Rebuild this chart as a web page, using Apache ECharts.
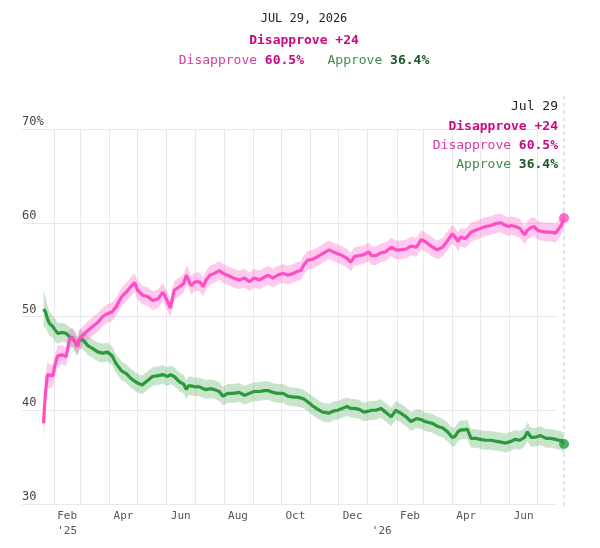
<!DOCTYPE html>
<html>
<head>
<meta charset="utf-8">
<script src="https://cdn.jsdelivr.net/npm/echarts@6/dist/echarts.min.js"></script>
<style>html,body{margin:0;padding:0;background:#fff}#c{width:600px;height:548px}</style>
</head>
<body>
<div id="c"></div>
<script>
// ---------- data ----------
const dates = [
 '2025-01-21','2025-01-22','2025-01-23','2025-01-25','2025-01-27','2025-01-31','2025-02-02','2025-02-05','2025-02-10','2025-02-14',
 '2025-02-16','2025-02-18','2025-02-21','2025-02-24','2025-02-26','2025-02-28','2025-03-04','2025-03-09','2025-03-14','2025-03-20',
 '2025-03-25','2025-03-30','2025-04-04','2025-04-08','2025-04-14','2025-04-19','2025-04-24','2025-04-28','2025-05-01','2025-05-06',
 '2025-05-12','2025-05-17','2025-05-23','2025-05-28','2025-06-02','2025-06-05','2025-06-09','2025-06-15','2025-06-19','2025-06-22',
 '2025-06-24','2025-06-27','2025-07-01','2025-07-06','2025-07-10','2025-07-13','2025-07-17','2025-07-22','2025-07-27','2025-07-31',
 '2025-08-05','2025-08-11','2025-08-17','2025-08-23','2025-08-28','2025-09-02','2025-09-08','2025-09-13','2025-09-17','2025-09-22',
 '2025-09-27','2025-10-03','2025-10-08','2025-10-14','2025-10-18','2025-10-22','2025-10-25','2025-10-29','2025-11-03','2025-11-09',
 '2025-11-14','2025-11-21','2025-11-25','2025-11-30','2025-12-05','2025-12-10','2025-12-14','2025-12-18','2025-12-23','2025-12-28',
 '2026-01-02','2026-01-05','2026-01-10','2026-01-15','2026-01-20','2026-01-26','2026-01-31','2026-02-05','2026-02-11','2026-02-16',
 '2026-02-22','2026-02-27','2026-03-03','2026-03-07','2026-03-11','2026-03-16','2026-03-22','2026-03-27','2026-04-01','2026-04-04',
 '2026-04-07','2026-04-10','2026-04-14','2026-04-17','2026-04-21','2026-04-26','2026-05-01','2026-05-06','2026-05-12','2026-05-17',
 '2026-05-23','2026-05-28','2026-05-31','2026-06-03','2026-06-07','2026-06-12','2026-06-17','2026-06-20','2026-06-24','2026-06-27',
 '2026-07-01','2026-07-04','2026-07-10','2026-07-15','2026-07-20','2026-07-23','2026-07-26','2026-07-29'
];
const disapprove = [
 38.6,40.5,41.8,43.8,43.6,43.7,44.8,45.8,45.9,45.7,
 46.8,47.7,47.7,47.3,46.8,47.6,48.0,48.5,48.9,49.4,
 50.0,50.3,50.5,51.0,52.1,52.6,53.2,53.6,52.8,52.3,
 52.1,51.7,51.9,52.6,51.6,50.9,52.8,53.2,53.5,54.4,
 54.2,53.3,53.7,53.7,53.2,53.9,54.4,54.6,54.9,54.6,
 54.4,54.1,53.9,54.1,53.7,54.1,53.9,54.2,54.4,54.1,
 54.4,54.6,54.4,54.6,54.8,54.9,55.5,56.0,56.1,56.4,
 56.7,57.1,56.9,56.7,56.5,56.2,55.8,56.4,56.5,56.6,
 56.9,56.5,56.5,56.8,56.9,57.4,57.1,57.1,57.2,57.5,
 57.4,58.2,58.0,57.7,57.4,57.1,57.4,58.1,58.8,58.5,
 58.0,58.5,58.3,58.5,59.0,59.2,59.4,59.6,59.7,59.9,
 60.0,59.7,59.6,59.7,59.6,59.4,58.7,59.2,59.5,59.6,
 59.2,59.1,59.0,59.0,58.9,59.3,59.7,60.5
];
const approve = [
 50.8,50.6,50.5,49.8,49.3,48.9,48.6,48.2,48.3,48.2,
 48.0,47.8,47.7,47.2,46.8,47.5,47.5,46.9,46.6,46.2,
 46.1,46.2,45.8,45.0,44.2,43.9,43.4,43.1,42.9,42.7,
 43.2,43.6,43.7,43.8,43.6,43.8,43.6,43.0,42.8,42.2,
 42.6,42.6,42.5,42.5,42.3,42.2,42.3,42.2,42.0,41.5,
 41.8,41.8,41.9,41.6,41.8,42.0,42.0,42.1,42.1,41.9,
 41.8,41.8,41.5,41.4,41.4,41.3,41.2,40.9,40.5,40.1,
 39.8,39.7,39.9,40.0,40.2,40.4,40.2,40.2,40.1,39.8,
 39.9,40.0,40.0,40.2,39.8,39.3,40.0,39.7,39.3,38.8,
 39.1,39.0,38.8,38.7,38.6,38.3,38.1,37.7,37.1,37.2,
 37.7,37.9,37.9,38.0,37.0,37.0,36.9,36.8,36.8,36.7,
 36.6,36.5,36.6,36.7,36.9,36.8,37.1,37.7,37.1,37.1,
 37.2,37.3,37.0,37.0,36.9,36.8,36.8,36.4
];
// half-width of the shaded uncertainty band (wider in the first days)
const earlyMargin = [2.0,1.8,1.6,1.4,1.3,1.2,1.2,1.1];
const typicalMargin = 1.0;

const monthTicks = ['2025-02-01','2025-03-01','2025-04-01','2025-05-01','2025-06-01','2025-07-01','2025-08-01','2025-09-01',
 '2025-10-01','2025-11-01','2025-12-01','2026-01-01','2026-02-01','2026-03-01','2026-04-01','2026-05-01','2026-06-01','2026-07-01'];
const xLabelDates = ['2025-02-15','2025-04-16','2025-06-16','2025-08-16','2025-10-16','2025-12-16','2026-01-16','2026-02-15','2026-04-16','2026-06-16'];
const xLabelTexts = ["Feb\n'25","Apr","Jun","Aug","Oct","Dec","\n'26","Feb","Apr","Jun"];
const yMin = 30, yMax = 70, yStep = 10;
const xMin = '2024-12-29', xMax = '2026-07-29';

// ---------- style ----------
const FONT = "'DejaVu Sans Mono', 'Liberation Mono', monospace";
const PINK = '#ff4ec4', PINK_BAND = 'rgba(255,78,196,0.30)';
const GREEN = '#2a9a3a', GREEN_BAND = 'rgba(42,154,58,0.26)';
const GRID_COLOR = '#e8e8ef';

const P = s => +echarts.time.parse(s);
const margin = i => (i < earlyMargin.length ? earlyMargin[i] : typicalMargin);
const labelMap = {};
xLabelDates.forEach((d, i) => { labelMap[P(d)] = xLabelTexts[i]; });

const line = (vals) => vals.map((v, i) => [P(dates[i]), v]);
const last = dates.length - 1;

function bandSeries(vals, color) {
  return {
    type: 'custom', xAxisIndex: 1, yAxisIndex: 1, silent: true, z: 1,
    data: [[P(dates[0]), vals[0]]],
    renderItem: (params, api) => {
      const upper = vals.map((v, i) => api.coord([P(dates[i]), v + margin(i)]));
      const lower = vals.map((v, i) => api.coord([P(dates[i]), v - margin(i)])).reverse();
      return {type: 'polygon', shape: {points: upper.concat(lower)}, style: {fill: color}};
    }
  };
}

const chart = echarts.init(document.getElementById('c'), null, {renderer: 'canvas'});

const option = {
  animation: false,
  backgroundColor: '#fff',
  grid: [
    {left: 22, right: 43, top: 129, bottom: 44},
    {left: 22, right: 36, top: 129, bottom: 44}
  ],
  xAxis: [
    {type: 'value', gridIndex: 0, show: false, min: 0, max: 1},
    {
      type: 'value', gridIndex: 1, min: P(xMin), max: P(xMax),
      axisLine: {show: false},
      axisTick: {show: false, customValues: monthTicks.map(P)},
      splitLine: {show: true, lineStyle: {color: GRID_COLOR, width: 1}},
      axisLabel: {
        customValues: xLabelDates.map(P),
        formatter: v => (labelMap[v] !== undefined ? labelMap[v] : ''),
        color: '#555', fontFamily: FONT, fontSize: 11, lineHeight: 15, margin: 5,
        hideOverlap: false
      }
    }
  ],
  yAxis: [
    {
      type: 'value', gridIndex: 0, min: yMin, max: yMax, interval: yStep,
      axisLine: {show: false}, axisTick: {show: false},
      splitLine: {show: true, lineStyle: {color: GRID_COLOR, width: 1}},
      axisLabel: {
        inside: true, margin: 0, align: 'left', verticalAlign: 'bottom',
        padding: [0, 0, 1, 0],
        formatter: v => (v === yMax ? v + '%' : String(v)),
        color: '#444', fontFamily: FONT, fontSize: 12
      }
    },
    {type: 'value', gridIndex: 1, min: yMin, max: yMax, interval: yStep, show: false, splitLine: {show: false}}
  ],
  series: [
    bandSeries(approve, GREEN_BAND),
    bandSeries(disapprove, PINK_BAND),
    {name: 'Approve', type: 'line', xAxisIndex: 1, yAxisIndex: 1, data: line(approve),
      symbol: 'none', lineStyle: {color: GREEN, width: 3.2}, z: 3},
    {name: 'Disapprove', type: 'line', xAxisIndex: 1, yAxisIndex: 1, data: line(disapprove),
      symbol: 'none', lineStyle: {color: PINK, width: 3.2}, z: 4},
    {name: 'endA', type: 'scatter', xAxisIndex: 1, yAxisIndex: 1, data: [[P(dates[last]), approve[last]]],
      symbolSize: 10, itemStyle: {color: GREEN}, clip: false, z: 6},
    {name: 'endD', type: 'scatter', xAxisIndex: 1, yAxisIndex: 1, data: [[P(dates[last]), disapprove[last]]],
      symbolSize: 10, itemStyle: {color: PINK}, clip: false, z: 6}
  ]
};
chart.setOption(option);

// ---------- header / annotation texts ----------
const MONTHS = ['Jan','Feb','Mar','Apr','May','Jun','Jul','Aug','Sep','Oct','Nov','Dec'];
const [yy, mm, dd] = dates[last].split('-').map(Number);
const dLast = disapprove[last], aLast = approve[last];
const net = Math.round(dLast - aLast);
const leader = dLast >= aLast ? 'Disapprove' : 'Approve';
const longDate = (MONTHS[mm - 1] + ' ' + dd + ', ' + yy).toUpperCase();
const shortDate = MONTHS[mm - 1] + ' ' + dd;

const rich = {
  dn: {fill: '#d63aa0', fontFamily: FONT, fontSize: 13},
  dv: {fill: '#c20a80', fontFamily: FONT, fontSize: 13, fontWeight: 'bold'},
  an: {fill: '#3d8a47', fontFamily: FONT, fontSize: 13},
  av: {fill: '#1e532b', fontFamily: FONT, fontSize: 13, fontWeight: 'bold'},
  sp: {fontFamily: FONT, fontSize: 13}
};

const xEnd = chart.convertToPixel({gridIndex: 1}, [P(dates[last]), yMin])[0];

chart.setOption({
  graphic: [
    {type: 'text', x: 304, y: 19, style: {text: longDate, fill: '#222', font: '12px ' + FONT, align: 'center', verticalAlign: 'middle'}},
    {type: 'text', x: 304, y: 41, style: {text: leader + ' +' + net, fill: '#c8097f', font: 'bold 13px ' + FONT, align: 'center', verticalAlign: 'middle'}},
    {type: 'text', x: 304, y: 61, style: {
      text: '{dn|Disapprove }{dv|' + dLast.toFixed(1) + '%}{sp|   }{an|Approve }{av|' + aLast.toFixed(1) + '%}',
      rich: rich, align: 'center', verticalAlign: 'middle'}},
    {type: 'line', shape: {x1: xEnd, y1: 96, x2: xEnd, y2: 508}, z: 1,
      style: {stroke: '#dadae2', lineWidth: 1.5, lineDash: [4, 3]}},
    {type: 'text', x: xEnd - 6, y: 107, style: {text: shortDate, fill: '#222', font: '13px ' + FONT, align: 'right', verticalAlign: 'middle'}},
    {type: 'text', x: xEnd - 6, y: 127, style: {text: leader + ' +' + net, fill: '#c8097f', font: 'bold 13px ' + FONT, align: 'right', verticalAlign: 'middle'}},
    {type: 'text', x: xEnd - 6, y: 146, style: {text: '{dn|Disapprove }{dv|' + dLast.toFixed(1) + '%}', rich: rich, align: 'right', verticalAlign: 'middle'}},
    {type: 'text', x: xEnd - 6, y: 165, style: {text: '{an|Approve }{av|' + aLast.toFixed(1) + '%}', rich: rich, align: 'right', verticalAlign: 'middle'}}
  ]
});
</script>
</body>
</html>
